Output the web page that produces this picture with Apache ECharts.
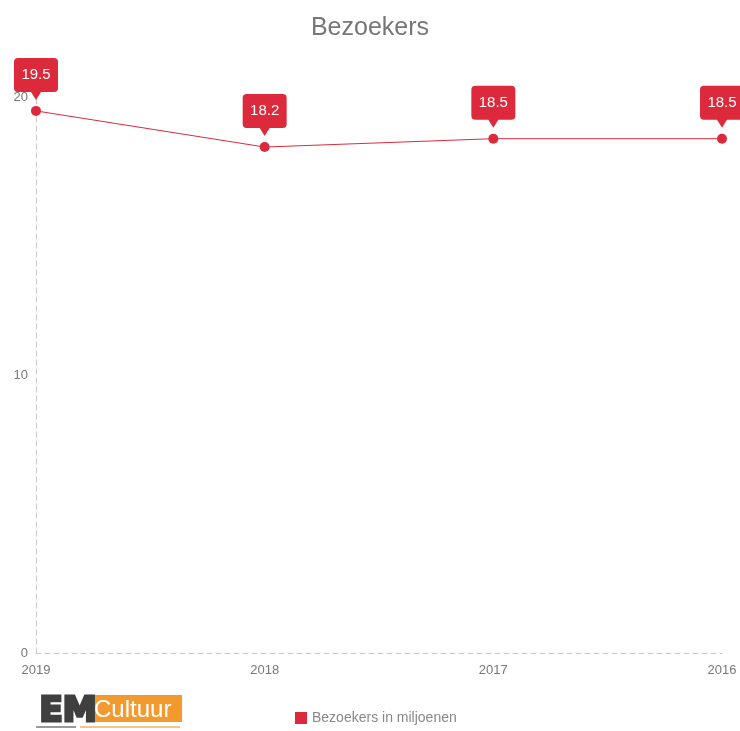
<!DOCTYPE html>
<html>
<head>
<meta charset="utf-8">
<script src="https://cdn.jsdelivr.net/npm/echarts@6/dist/echarts.min.js"></script>
<style>html,body{margin:0;padding:0;background:#fff}#c{width:740px;height:731px}</style>
</head>
<body>
<div id="c"></div>
<script>
const titleText = 'Bezoekers';
const seriesName = 'Bezoekers in miljoenen';
const categories = ['2019', '2018', '2017', '2016'];
const values = [19.5, 18.2, 18.5, 18.5];
const yTicks = [0, 10, 20];

const red = '#dc2a3c';
const font = 'Liberation Sans, Arial, sans-serif';
const callout = 'path://M4,0 L40,0 Q44,0 44,4 L44,30 Q44,34 40,34 L27,34 L22,42 L17,34 L4,34 Q0,34 0,30 L0,4 Q0,0 4,0 Z';

const chart = echarts.init(document.getElementById('c'));
chart.setOption({
  animation: false,
  backgroundColor: '#fff',
  title: {
    text: titleText, left: 'center', top: 11,
    textStyle: { color: '#777', fontSize: 25, fontWeight: 'normal', fontFamily: font }
  },
  legend: {
    left: 290, top: 706, icon: 'rect', itemWidth: 12, itemHeight: 12, itemGap: 6,
    textStyle: { color: '#888', fontSize: 14, fontFamily: font },
    data: [seriesName]
  },
  grid: { left: 36, right: 18, top: 97, bottom: 78, containLabel: false },
  xAxis: {
    type: 'category', data: categories, boundaryGap: false,
    axisLine: { lineStyle: { color: '#c8c8c8', type: [5, 4] } },
    axisTick: { show: false },
    axisLabel: { color: '#777', fontSize: 13, margin: 11, fontFamily: font },
    splitLine: { show: false }
  },
  yAxis: {
    type: 'value', min: yTicks[0], max: yTicks[yTicks.length - 1], interval: 10,
    axisLine: { show: true, lineStyle: { color: '#c8c8c8', type: [5, 4] } },
    axisTick: { show: false },
    axisLabel: { color: '#777', fontSize: 13, margin: 8, fontFamily: font },
    splitLine: { show: false }
  },
  series: [{
    name: seriesName, type: 'line', data: values,
    symbol: 'circle', symbolSize: 10,
    itemStyle: { color: red },
    lineStyle: { color: red, width: 1 },
    markPoint: {
      symbol: callout, symbolSize: [44, 42], symbolOffset: [0, -32],
      itemStyle: { color: red },
      label: { show: true, color: '#fff', fontSize: 15, offset: [0, -4], fontFamily: font,
        formatter: p => p.value.toFixed(1) },
      data: categories.map((c, i) => ({ coord: [c, values[i]], value: values[i] }))
    }
  }],
  graphic: [
    { type: 'rect', left: 90, top: 695, shape: { width: 92, height: 27 }, style: { fill: '#f39a2e' } },
    { type: 'text', left: 94, top: 698, style: { text: 'Cultuur', fill: '#fff', fontSize: 24, fontFamily: font } },
    { type: 'text', left: 38, top: 694, style: { text: 'EM', fill: '#3f3f3f', stroke: '#3f3f3f', lineWidth: 3, fontSize: 34, fontWeight: 'bold', fontFamily: 'DejaVu Sans, sans-serif' } },
    { type: 'rect', left: 36, top: 726, shape: { width: 40, height: 2 }, style: { fill: '#9a9a9a' } },
    { type: 'rect', left: 80, top: 726, shape: { width: 100, height: 2 }, style: { fill: '#f6c48a' } }
  ]
});
</script>
</body>
</html>
